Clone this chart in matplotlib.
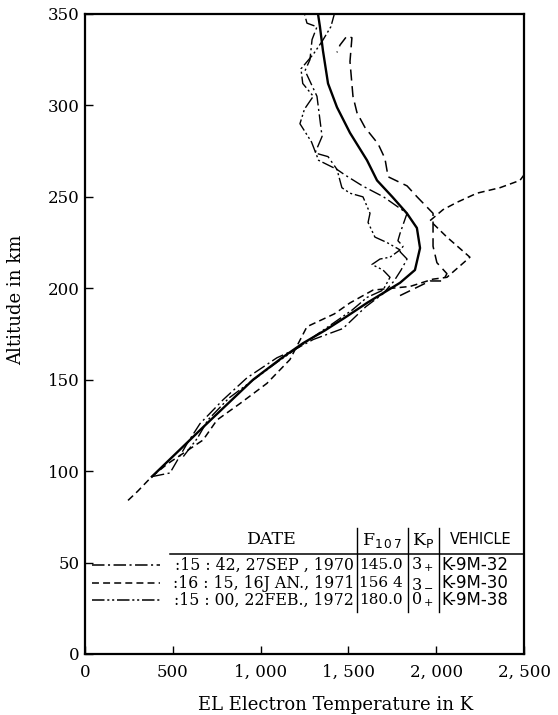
import matplotlib
matplotlib.use("Agg")
import matplotlib.pyplot as plt
import matplotlib.ticker as mticker

plt.rcParams['font.family'] = ['DejaVu Serif']
plt.rcParams['lines.scale_dashes'] = False

#-- smooth (mean) profile
mean_T = [381, 597, 672, 957, 1122, 1242, 1367, 1481, 1606, 1794, 1879, 1908, 1890, 1833, 1750, 1663, 1606, 1509, 1435, 1384, 1355, 1338, 1327]
mean_alt = [97, 117, 124, 150, 162, 170, 177, 184, 192, 203, 210, 222, 233, 241, 250, 259, 270, 285, 299, 312, 330, 343, 350]

#-- 16 JAN 1971 (dashed)
jan_T = [245, 300, 380, 470, 672, 752, 883, 1036, 1167, 1264, 1420, 1509, 1640, 1851, 1982, 2061, 2192, 2061, 1965, 2039, 2118, 2232, 2363, 2477, 2500]
jan_alt = [84, 89, 97, 104, 117, 128, 137, 148, 161, 179, 186, 192, 199, 201, 205, 206, 217, 228, 237, 243, 247, 252, 255, 259, 262]

#-- second dashed leg (upper right of mean)
jan2_T = [1794, 1965, 2039, 2061, 2004, 1982, 1982, 1982, 1891, 1834, 1726, 1708, 1669, 1594, 1549, 1526, 1509, 1520, 1492, 1452, 1435]
jan2_alt = [196, 204, 204, 208, 214, 223, 233, 241, 250, 256, 261, 271, 279, 288, 296, 305, 324, 337, 338, 333, 329]

#-- 27 SEP 1970 (dash-dot)
sep_T = [381, 484, 581, 655, 786, 922, 1093, 1185, 1300, 1469, 1600, 1697, 1760, 1800, 1834, 1794, 1811, 1782, 1794, 1834, 1700, 1580, 1480, 1435, 1384, 1310, 1350, 1321, 1253, 1281, 1293, 1321, 1264, 1250]
sep_alt = [97, 99, 115, 126, 139, 151, 162, 166, 172, 178, 190, 197, 204, 210, 216, 220, 223, 226, 230, 241, 250, 256, 262, 265, 272, 274, 283, 305, 319, 325, 336, 343, 345, 350]

#-- 22 FEB 1972 (dash-dot-dot)
feb_T = [560, 640, 700, 820, 960, 1100, 1250, 1400, 1520, 1606, 1697, 1737, 1697, 1634, 1680, 1737, 1794, 1720, 1651, 1612, 1623, 1583, 1509, 1463, 1435, 1330, 1290, 1224, 1250, 1300, 1240, 1230, 1300, 1350, 1400, 1420]
feb_alt = [108, 118, 128, 140, 150, 160, 170, 180, 188, 195, 199, 206, 210, 213, 216, 217, 221, 225, 228, 236, 241, 250, 252, 255, 265, 270, 280, 290, 298, 305, 312, 320, 328, 335, 343, 350]

#-- table
dates = ["15 : 42, 27SEP , 1970", "16 : 15, 16J AN., 1971", "15 : 00, 22FEB., 1972"]
f107 = ["145.0", "156 4", "180.0"]
kp = ["3$_+$", "3$_-$", "0$_+$"]
vehicles = ["K-9M-32", "K-9M-30", "K-9M-38"]

DASH = (0, (5, 3))
DASHDOT = (0, (9, 2.5, 1.5, 2.5))
DASHDOTDOT = (0, (9, 2, 1.5, 2, 1.5, 2))
styles = [DASHDOT, DASH, DASHDOTDOT]

fig = plt.figure(figsize=(5.58, 7.15), dpi=100)
ax = fig.add_axes([85/558, 1-654/715, 439/558, 640/715])

ax.plot(mean_T, mean_alt, color='black', lw=1.7, solid_joinstyle='round')
ax.plot(jan_T, jan_alt, color='black', lw=1.1, linestyle=DASH)
ax.plot(jan2_T, jan2_alt, color='black', lw=1.1, linestyle=(0, (8, 4)))
ax.plot(sep_T, sep_alt, color='black', lw=1.0, linestyle=DASHDOT)
ax.plot(feb_T, feb_alt, color='black', lw=1.0, linestyle=DASHDOTDOT)

ax.set_xlim(0, 2500)
ax.set_ylim(0, 350)
ax.set_xticks([0, 500, 1000, 1500, 2000, 2500])
ax.set_yticks(range(0, 351, 50))
ax.xaxis.set_major_formatter(mticker.FuncFormatter(lambda v, p: f"{int(v):,}".replace(",", ", ")))
ax.tick_params(direction='in', length=6, width=1, labelsize=12)
ax.tick_params(axis='x', pad=7)
ax.tick_params(axis='y', pad=4)
for s in ax.spines.values():
    s.set_linewidth(1.6)

ax.set_xlabel("EL Electron Temperature in K", fontsize=13)
ax.xaxis.set_label_coords(0.57, -0.066)
ax.set_ylabel("Altitude in km", fontsize=13)
ax.yaxis.set_label_coords(-0.137, 0.553)

#-- table drawn in axes fraction coords
def fx(px):
    return (px - 85) / 439.0

def fy(py):
    return (654 - py) / 640.0

tr = ax.transAxes
ax.plot([fx(170), 1.0], [fy(554), fy(554)], color='black', lw=1.1, transform=tr)
for xv in [357, 408, 439]:
    ax.plot([fx(xv), fx(xv)], [fy(528), fy(612)], color='black', lw=1.0, transform=tr)

ax.text(fx(272), fy(540), "DATE", transform=tr, ha='center', va='center', fontsize=12.5)
ax.text(fx(382), fy(540), "F$_{1\\,0\\,7}$", transform=tr, ha='center', va='center', fontsize=12.5)
ax.text(fx(423), fy(540), "K$_{\\rm P}$", transform=tr, ha='center', va='center', fontsize=12.5)
ax.text(fx(481), fy(540), "VEHICLE", transform=tr, ha='center', va='center', fontsize=10.5, family='DejaVu Sans')

rows_y = [565, 583, 600]
for i in range(3):
    y = fy(rows_y[i])
    ax.plot([fx(92), fx(160)], [y, y], color='black', lw=1.1, linestyle=styles[i], transform=tr)
    ax.text(fx(354), y, ":" + dates[i], transform=tr, ha='right', va='center', fontsize=11.3)
    ax.text(fx(359), y, f107[i], transform=tr, ha='left', va='center', fontsize=11)
    ax.text(fx(411), y, kp[i], transform=tr, ha='left', va='center', fontsize=11.5)
    ax.text(fx(441), y, vehicles[i], transform=tr, ha='left', va='center', fontsize=12, family='DejaVu Sans')

fig.savefig("out.png", dpi=100)
